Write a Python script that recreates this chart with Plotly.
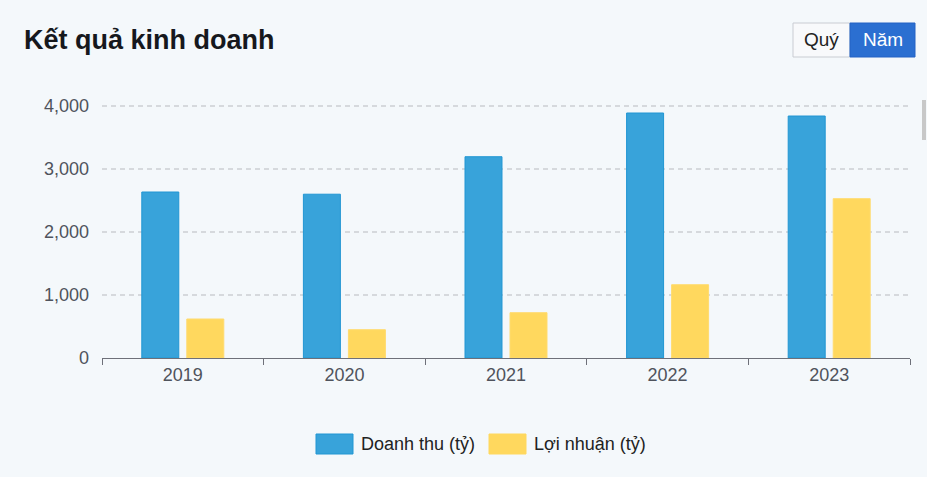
import plotly.graph_objects as go

years = ["2019", "2020", "2021", "2022", "2023"]
revenue = [2635, 2600, 3195, 3889, 3841]
profit = [619, 449, 719, 1163, 2529]
series_names = ["Doanh thu (tỷ)", "Lợi nhuận (tỷ)"]
y_ticks = [0, 1000, 2000, 3000, 4000]

W, H = 927, 477
L, R, T, B = 102, 910, 105, 358

def px(x):
    return (x - L) / (R - L)

def py(y):
    return (B - y) / (B - T)

BLUE = "#38a3da"
YELLOW = "#ffd85e"
FONT = "Liberation Sans, Arial, sans-serif"

fig = go.Figure()
fig.add_trace(go.Bar(x=years, y=revenue, name=series_names[0],
                     marker=dict(color=BLUE, line=dict(color="#2196d3", width=1))))
fig.add_trace(go.Bar(x=years, y=profit, name=series_names[1],
                     marker=dict(color=YELLOW, line=dict(color="#ffdb6e", width=1))))

shapes = []
annotations = []

# Title
annotations.append(dict(x=px(22), y=py(40), xref="paper", yref="paper", text="<b>Kết quả kinh doanh</b>",
                        showarrow=False, xanchor="left", yanchor="middle",
                        font=dict(family=FONT, size=27, color="#16181d")))

# Buttons
shapes.append(dict(type="rect", xref="paper", yref="paper", x0=px(793), x1=px(850), y0=py(23), y1=py(57),
                   fillcolor="#f8f9fb", line=dict(color="#c9ccd2", width=1)))
shapes.append(dict(type="rect", xref="paper", yref="paper", x0=px(850), x1=px(915), y0=py(23), y1=py(57),
                   fillcolor="#2b6fd1", line=dict(color="#2563c4", width=1)))
annotations.append(dict(x=px(821.5), y=py(40), xref="paper", yref="paper", text="Quý", showarrow=False,
                        xanchor="center", yanchor="middle",
                        font=dict(family=FONT, size=19, color="#222")))
annotations.append(dict(x=px(883), y=py(40), xref="paper", yref="paper", text="Năm", showarrow=False,
                        xanchor="center", yanchor="middle",
                        font=dict(family=FONT, size=19, color="#ffffff")))

# Legend (manual)
legend_items = [(316, BLUE, "#2196d3", series_names[0]), (489, YELLOW, YELLOW, series_names[1])]
for x0, fc, lc, name in legend_items:
    shapes.append(dict(type="rect", xref="paper", yref="paper", x0=px(x0), x1=px(x0 + 37),
                       y0=py(434), y1=py(454), fillcolor=fc, line=dict(color=lc, width=1)))
    annotations.append(dict(x=px(x0 + 43), y=py(444), xref="paper", yref="paper", text=name,
                            showarrow=False, xanchor="left", yanchor="middle",
                            font=dict(family=FONT, size=18, color="#222")))

# scrollbar hint
shapes.append(dict(type="rect", xref="paper", yref="paper", x0=px(922), x1=px(926), y0=py(100), y1=py(140),
                   fillcolor="#c8c8c8", line=dict(width=0)))

fig.update_layout(
    width=W, height=H,
    margin=dict(l=L, r=W - R, t=T, b=H - B),
    paper_bgcolor="#f4f8fb", plot_bgcolor="#f4f8fb",
    showlegend=False,
    barmode="group", bargap=0.443, bargroupgap=0.178,
    shapes=shapes, annotations=annotations,
    font=dict(family=FONT),
    xaxis=dict(type="category", showline=True, linecolor="#6e7079", linewidth=1,
               ticks="outside", tickson="boundaries", ticklen=6, tickcolor="#6e7079",
               tickfont=dict(family=FONT, size=18, color="#4f535c"), showgrid=False, fixedrange=True),
    yaxis=dict(range=[0, 4016], tickvals=y_ticks, tickformat=",", showline=False,
               gridcolor="#d6d9dd", griddash="5px,4px", gridwidth=1.5, zeroline=False,
               tickfont=dict(family=FONT, size=18, color="#4f535c"), ticklabelstandoff=12, fixedrange=True),
)

fig.write_html("out.html", config={"displayModeBar": False},
               post_script="document.body.style.margin='0';document.body.style.padding='0';document.body.style.overflow='hidden';")
